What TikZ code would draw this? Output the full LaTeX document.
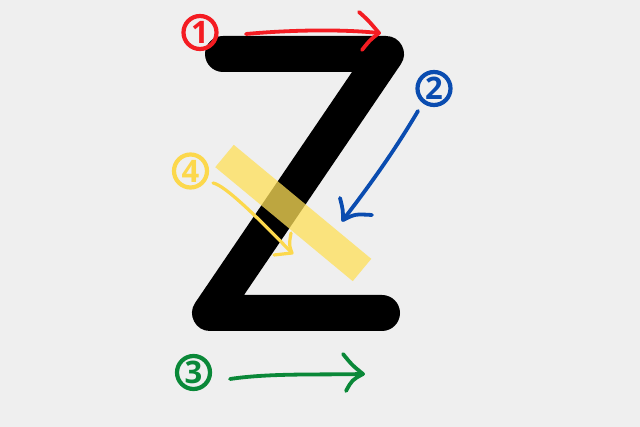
\documentclass[tikz,border=0pt]{standalone}
\usepackage{fontspec}
\setsansfont{Open Sans}
\definecolor{bg}{HTML}{EFEFEF}
\definecolor{zred}{HTML}{F41C22}
\definecolor{zblue}{HTML}{0A4CB0}
\definecolor{zgreen}{HTML}{0A8838}
\definecolor{zyel}{HTML}{FCD84C}
\definecolor{band}{HTML}{FEDF56}
\begin{document}
\begin{tikzpicture}[x=1pt,y=-1pt,
  num/.style={circle,draw=#1,text=#1,line width=4.2,minimum size=33,inner sep=0,
    font=\sffamily\bfseries\fontsize{31}{31}\selectfont},
  hand/.style={draw=#1,line width=3.8,line cap=round,line join=round}]
\fill[bg] (0,0) rectangle (640,427);
\useasboundingbox (0,0) rectangle (640,427);
% the Z stroke
\coordinate (z1) at (223,54);
\coordinate (z2) at (386,54);
\coordinate (z3) at (210,313);
\coordinate (z4) at (382,313);
\draw[line width=36,line cap=round,line join=round] (z1) -- (z2) -- (z3) -- (z4);
% yellow band
\coordinate (b1) at (224.5,156);
\coordinate (b2) at (362,270);
\draw[band,opacity=0.745,line width=29] (b1) -- (b2);
% numbers
\node[num=zred] (n1) at (200,32.5) {1};
\node[num=zblue] (n2) at (434,88.5) {2};
\node[num=zgreen] (n3) at (193.5,372.5) {3};
\node[num=zyel] (n4) at (190.5,171) {4};
% arrows
\coordinate (r0) at (246,34);
\coordinate (r1) at (379,33);
\draw[hand=zred] (r0) .. controls (290,30) and (340,29) .. (r1);
\draw[hand=zred] (359,12) .. controls (368,20) .. (r1) .. controls (370,40) .. (362,50);
\coordinate (u0) at (418,111);
\coordinate (u1) at (343,220);
\draw[hand=zblue] (u0) .. controls (395,150) and (370,185) .. (u1);
\draw[hand=zblue] (340,198) .. controls (343,210) .. (u1) .. controls (355,214) .. (372,215);
\coordinate (g0) at (230,379);
\coordinate (g1) at (363,374);
\draw[hand=zgreen] (g0) .. controls (270,373) and (320,375) .. (g1);
\draw[hand=zgreen] (343,354) .. controls (352,365) .. (g1) .. controls (352,380) .. (346,391);
\coordinate (y0) at (213,183);
\coordinate (y1) at (292,253);
\draw[hand=zyel,line width=3.2] (y0) .. controls (225,185) and (260,220) .. (y1);
\draw[hand=zyel,line width=3.2] (291,233) .. controls (289,245) .. (y1) .. controls (283,254) .. (274,255);
\end{tikzpicture}
\end{document}
